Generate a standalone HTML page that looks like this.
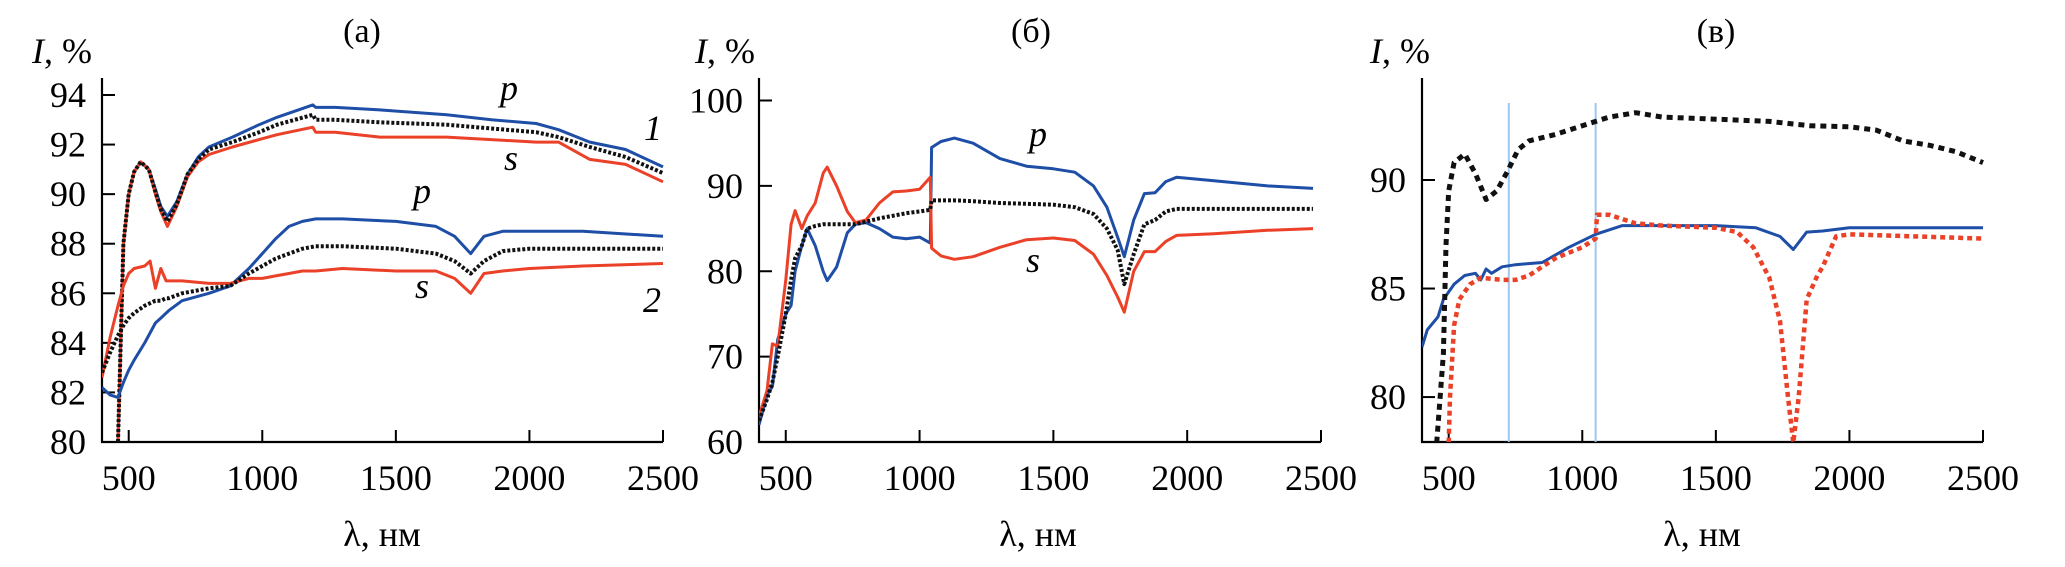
<!DOCTYPE html>
<html><head><meta charset="utf-8">
<style>
html,body{margin:0;padding:0;background:#fff;}
svg{display:block;}
text{font-family:"Liberation Serif",serif;fill:#000;}
</style></head>
<body>
<svg id="chart" width="2065" height="567" viewBox="0 0 2065 567" xmlns="http://www.w3.org/2000/svg"></svg>
<script>
// ---------- data ----------
const xTicks = [500, 1000, 1500, 2000, 2500];
const aYTicks = [80, 82, 84, 86, 88, 90, 92, 94];
const bYTicks = [60, 70, 80, 90, 100];
const cYTicks = [80, 85, 90];

// panel (a) curve 1
const a1X = [460,470,480,500,520,545,575,600,620,645,680,720,760,800,888,988,1055,1189,1200,1273,1440,1690,1858,2025,2109,2226,2360,2500];
const a1P = [80,84,88,90.0,90.9,91.3,91.0,90.2,89.5,89.1,89.7,90.8,91.5,91.9,92.3,92.8,93.1,93.6,93.5,93.5,93.4,93.2,93.0,92.85,92.6,92.1,91.8,91.1];
const a1S = [80,84,88,90.0,90.9,91.3,91.0,90.0,89.3,88.7,89.5,90.7,91.3,91.6,91.9,92.2,92.4,92.7,92.5,92.5,92.3,92.3,92.2,92.1,92.1,91.4,91.2,90.5];
const a1D = [80,84,88,90.0,90.9,91.3,91.0,90.1,89.4,88.9,89.6,90.8,91.4,91.8,92.1,92.5,92.8,93.2,93.0,93.0,92.9,92.8,92.65,92.5,92.3,91.9,91.5,90.85];
// panel (a) curve 2
const a2X = [400,430,460,480,500,520,560,580,600,620,640,650,700,800,880,950,1000,1050,1100,1150,1200,1300,1500,1650,1720,1780,1830,1900,2000,2200,2500];
const a2P = [82.2,81.9,81.8,82.4,82.9,83.3,84.0,84.4,84.8,85.0,85.2,85.3,85.7,86.0,86.3,87.0,87.6,88.2,88.7,88.9,89.0,89.0,88.9,88.7,88.3,87.6,88.3,88.5,88.5,88.5,88.3];
const a2S = [82.6,84.2,85.5,86.3,86.8,87.0,87.1,87.3,86.2,87.0,86.5,86.5,86.5,86.4,86.4,86.6,86.6,86.7,86.8,86.9,86.9,87.0,86.9,86.9,86.6,86.0,86.8,86.9,87.0,87.1,87.2];
const a2D = [82.8,83.6,84.3,84.7,85.0,85.2,85.5,85.6,85.7,85.7,85.8,85.8,86.0,86.2,86.3,86.8,87.1,87.4,87.6,87.8,87.9,87.9,87.8,87.6,87.3,86.8,87.3,87.7,87.8,87.8,87.8];

// panel (б)
const bX = [400,430,450,470,500,520,535,560,580,610,640,655,690,730,760,800,850,900,950,1000,1040,1045,1080,1130,1200,1300,1400,1500,1580,1650,1700,1740,1765,1800,1840,1880,1920,1960,2100,2300,2470];
const bP = [62,65.5,66.5,72,75,76,80,83,85,83,80,78.9,80.5,84.5,85.5,85.7,85,84,83.8,84,83.3,94.5,95.2,95.6,95,93.2,92.3,92.0,91.6,90,87.5,84,81.7,86,89.1,89.2,90.5,91.0,90.6,90.0,89.7];
const bS = [63,66,71.5,71.2,79,85.5,87.1,85,86.5,88,91.5,92.2,90,87,85.7,86,88,89.3,89.4,89.6,91.0,82.7,81.8,81.4,81.7,82.8,83.7,83.9,83.6,82,79.5,77,75.2,80,82.3,82.3,83.5,84.2,84.4,84.8,85.0];
const bD = [62.5,65,67,70,75,79,81.5,83,85,85.3,85.5,85.5,85.5,85.5,85.5,85.8,86.2,86.5,86.8,87.0,87.2,88.3,88.3,88.3,88.2,88.0,87.9,87.8,87.5,86.7,85,82.5,78.5,82,85.5,86,87,87.3,87.3,87.3,87.3];

// panel (в)
const cDX = [455,480,490,500,520,560,600,640,680,720,760,800,900,1000,1100,1200,1300,1500,1700,1850,2000,2100,2200,2300,2400,2500];
const cD = [77.9,82,87,89.5,90.8,91.2,90.3,89.1,89.5,90.4,91.4,91.8,92.1,92.5,92.9,93.1,92.9,92.8,92.7,92.5,92.45,92.3,91.8,91.6,91.3,90.8];
const cBX = [400,420,460,480,520,560,600,620,640,660,700,750,850,950,1050,1150,1300,1500,1650,1740,1790,1840,1900,2000,2500];
const cB = [82.3,83.1,83.7,84.5,85.2,85.6,85.7,85.4,85.9,85.7,86.0,86.1,86.2,86.9,87.5,87.9,87.9,87.9,87.8,87.4,86.8,87.6,87.65,87.8,87.8];
const cRX = [500,505,520,540,580,620,700,750,800,850,900,1000,1050,1055,1100,1200,1300,1500,1580,1640,1700,1740,1770,1790,1810,1840,1880,1900,1950,2000,2500];
const cR = [77.9,80,83.3,84.5,85.2,85.5,85.4,85.4,85.6,86.0,86.4,86.9,87.3,88.4,88.4,88.0,87.9,87.8,87.6,86.9,85.5,83.5,80,77.9,80,84.5,85.6,86.0,87.4,87.5,87.3];
const cVLines = [725, 1050];

// ---------- drawing ----------
const NS = "http://www.w3.org/2000/svg";
const svg = document.getElementById("chart");
function el(tag, attrs, parent) {
  const e = document.createElementNS(NS, tag);
  for (const k in attrs) e.setAttribute(k, attrs[k]);
  (parent || svg).appendChild(e);
  return e;
}
function txt(s, x, y, size, parent, extra) {
  const t = el("text", Object.assign({x: x, y: y, "font-size": size}, extra || {}), parent);
  t.textContent = s;
  return t;
}

const BLUE = "#1e4ea6", RED = "#ea4128", BLACK = "#111";

function panel(cfg) {
  const g = el("g", {});
  
  
  const sx = v => cfg.x0 + (v - 400) / 2100 * (cfg.x1 - cfg.x0);
  const sy = v => cfg.yb - (v - cfg.ymin) / (cfg.ymax - cfg.ymin) * (cfg.yb - cfg.yt);
  const clipId = "clip-" + cfg.name;
  const cp = el("clipPath", {id: clipId}, g);
  el("rect", {x: cfg.x0, y: 60, width: cfg.x1 - cfg.x0 + 2, height: cfg.yb - 60}, cp);

  // axes
  const ax = el("path", {d: `M${cfg.x0},78 V${cfg.yb} H${cfg.x1}`, fill: "none", stroke: "#000", "stroke-width": 2.2}, g);
  
  

  xTicks.forEach(v => {
    const tk = el("line", {x1: sx(v), x2: sx(v), y1: cfg.yb, y2: cfg.yb - 12, stroke: "#000", "stroke-width": 2}, g);
    
    
    const tl = txt(String(v), sx(v), cfg.yb + 48, 36, g, {"text-anchor": "middle"});
    
    
  });
  cfg.yTicks.forEach(v => {
    const tk = el("line", {x1: cfg.x0, x2: cfg.x0 + 13, y1: sy(v), y2: sy(v), stroke: "#000", "stroke-width": 2}, g);
    
    
    const tl = txt(String(v), cfg.x0 - 16, sy(v) + 12, 36, g, {"text-anchor": "end"});
    
    
  });

  const title = txt(cfg.title, cfg.titleX, 42, 34, g, {"text-anchor": "middle"});
  
  
  const yl = el("text", {x: cfg.ylX, y: 63, "font-size": 36}, g);
  yl.innerHTML = '<tspan font-style="italic">I</tspan>, %';
  
  
  const xl = txt("λ, нм", cfg.xlX, 546, 36, g, {"text-anchor": "middle"});
  
  

  const plot = el("g", {"clip-path": `url(#${clipId})`}, g);
  (cfg.vlines || []).forEach(v => {
    const l = el("line", {x1: sx(v), x2: sx(v), y1: 103, y2: cfg.yb, stroke: "#9cc8ee", "stroke-width": 2}, plot);
    
    
  });
  cfg.series.forEach(s => {
    const d = s.x.map((xv, i) => (i ? "L" : "M") + sx(xv).toFixed(1) + "," + sy(s.y[i]).toFixed(1)).join(" ");
    const p = el("path", {d: d, fill: "none", stroke: s.color, "stroke-width": s.w || 3, "stroke-linejoin": "round"}, plot);
    if (s.dash) p.setAttribute("stroke-dasharray", s.dash);
    
    
  });
  (cfg.labels || []).forEach(l => {
    const t = txt(l.t, l.x, l.y, 36, g, {"font-style": "italic", "text-anchor": "middle"});
    
    
  });
}

panel({
  name: "panel-a", x0: 102, x1: 663, yb: 442, yt: 95, ymin: 80, ymax: 94,
  yTicks: aYTicks, title: "(a)", titleX: 362, ylX: 32, xlX: 382,
  series: [
    {name: "curve-1-p", x: a1X, y: a1P, color: BLUE},
    {name: "curve-1-s", x: a1X, y: a1S, color: RED},
    {name: "curve-1-unpolarized", x: a1X, y: a1D, color: BLACK, dash: "3 2", w: 4},
    {name: "curve-2-p", x: a2X, y: a2P, color: BLUE},
    {name: "curve-2-s", x: a2X, y: a2S, color: RED},
    {name: "curve-2-unpolarized", x: a2X, y: a2D, color: BLACK, dash: "3 2", w: 4}
  ],
  labels: [{t: "p", x: 509, y: 100}, {t: "s", x: 511, y: 170}, {t: "1", x: 653, y: 140},
           {t: "p", x: 422, y: 203}, {t: "s", x: 422, y: 298}, {t: "2", x: 652, y: 312}]
});

panel({
  name: "panel-b", x0: 759, x1: 1321, yb: 442, yt: 100.5, ymin: 60, ymax: 100,
  yTicks: bYTicks, title: "(б)", titleX: 1031, ylX: 695, xlX: 1038,
  series: [
    {name: "curve-p", x: bX, y: bP, color: BLUE},
    {name: "curve-s", x: bX, y: bS, color: RED},
    {name: "curve-unpolarized", x: bX, y: bD, color: BLACK, dash: "3 2", w: 4}
  ],
  labels: [{t: "p", x: 1038, y: 146}, {t: "s", x: 1033, y: 272}]
});

panel({
  name: "panel-c", x0: 1422, x1: 1983, yb: 442, yt: 180, ymin: 77.93, ymax: 90,
  yTicks: cYTicks, title: "(в)", titleX: 1716, ylX: 1370, xlX: 1702, vlines: cVLines,
  series: [
    {name: "curve-blue", x: cBX, y: cB, color: BLUE},
    {name: "curve-red-dashed", x: cRX, y: cR, color: RED, dash: "5 4", w: 4.5},
    {name: "curve-black-dashed", x: cDX, y: cD, color: BLACK, dash: "6 5", w: 5}
  ]
});
</script>
</body></html>
